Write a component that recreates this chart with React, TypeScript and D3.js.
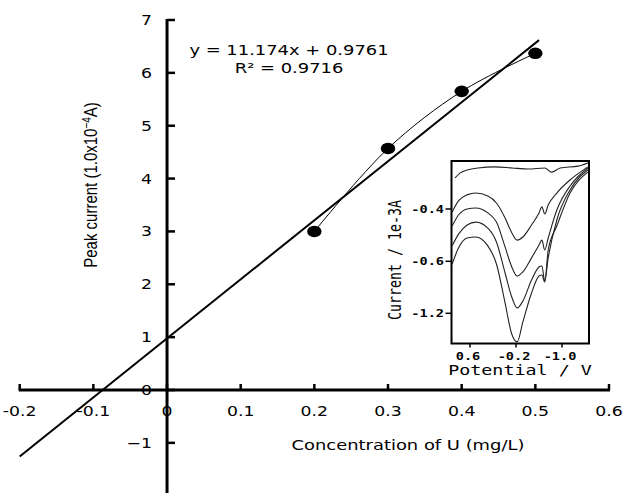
import React from 'react';
import * as d3 from 'd3';

// calibration points (mg/L vs peak current, 1e-4 A)
const concentration = [0.2, 0.3, 0.4, 0.5];
const peakCurrent = [3.0, 4.57, 5.65, 6.37];

// linear fit as printed on the chart
const fitSlope = 11.174;
const fitIntercept = 0.9761;
const fitR2 = 0.9716;
const fitFrom = -0.2;
const fitTo = 0.505;

const xTicks = [-0.2, -0.1, 0, 0.1, 0.2, 0.3, 0.4, 0.5, 0.6];
const xTickLabels = ['-0.2', '-0.1', '0', '0.1', '0.2', '0.3', '0.4', '0.5', '0.6'];
const yTicks = [-1, 0, 1, 2, 3, 4, 5, 6, 7];
const yTickLabels = ['\u22121', '0', '1', '2', '3', '4', '5', '6', '7'];
const yAxisBottom = -1.95;

// inset voltammograms (potential in V, current in 1e-3 A)
const scanPotential = [0.91, 0.8, 0.65, 0.5, 0.29, 0.14, -0.01, -0.12, -0.22, -0.32, -0.47, -0.6, -0.65, -0.7, -0.76, -0.91, -1.14, -1.45];
const scan1 = [-0.411, -0.369, -0.346, -0.339, -0.35, -0.377, -0.434, -0.488, -0.519, -0.507, -0.461, -0.415, -0.392, -0.419, -0.385, -0.339, -0.289, -0.239];
const scan2 = [-0.465, -0.423, -0.4, -0.396, -0.415, -0.45, -0.545, -0.654, -0.77, -0.723, -0.587, -0.538, -0.519, -0.557, -0.511, -0.404, -0.312, -0.243];
const scan3 = [-0.541, -0.496, -0.461, -0.45, -0.473, -0.526, -0.735, -1.0, -1.139, -1.058, -0.816, -0.666, -0.654, -0.827, -0.587, -0.442, -0.327, -0.251];
const scan4 = [-0.631, -0.549, -0.511, -0.507, -0.541, -0.631, -1.081, -1.427, -1.53, -1.3, -0.966, -0.77, -0.758, -0.839, -0.557, -0.465, -0.339, -0.259];
const blankPotential = [0.86, 0.77, 0.65, 0.46, 0.17, -0.13, -0.41, -0.7, -0.82, -0.97, -1.28, -1.45];
const blankCurrent = [-0.281, -0.262, -0.251, -0.243, -0.239, -0.243, -0.247, -0.243, -0.259, -0.243, -0.236, -0.224];

const insetXTicks = [0.6, -0.2, -1.0];
const insetXTickLabels = ['0.6', '-0.2', '-1.0'];
const insetYTicks = [-0.4, -0.6, -1.2];
const insetYTickLabels = ['-0.4', '-0.6', '-1.2'];

const W = 624;
const H = 493;
const SX = 1.28; // the original is stretched sideways
const MSX = 1.36;
const sans = '"DejaVu Sans", sans-serif';
const mono = '"DejaVu Sans Mono", monospace';

const st = (x: number, y: number, sx = SX) => `translate(${x},${y}) scale(${sx},1)`;

export default function App() {
  const x = d3.scaleLinear().domain([-0.2, 0.6]).range([19.7, 609]);
  const y = d3.scaleLinear().domain([0, 7]).range([390, 20]);

  const fitLine = d3.line<number>()
    .x(d => x(d))
    .y(d => y(fitSlope * d + fitIntercept));

  const pts = concentration.map((c, i) => [c, peakCurrent[i]] as [number, number]);
  const smooth = d3.line<[number, number]>()
    .x(d => x(d[0]))
    .y(d => y(d[1]))
    .curve(d3.curveCatmullRom.alpha(0.5));

  // inset
  const box = { left: 451.5, top: 161, right: 589, bottom: 343.5 };
  const ix = d3.scaleLinear().domain([0.6, -1.0]).range([470, 562]);
  const iy = d3.scaleLinear().domain([-0.4, -0.6, -1.2]).range([209, 261.3, 313.3]);
  const scanLine = d3.line<[number, number]>()
    .x(d => ix(d[0]))
    .y(d => iy(d[1]))
    .curve(d3.curveMonotoneX);
  const scans = [scan1, scan2, scan3, scan4].map(s => scanPotential.map((p, i) => [p, s[i]] as [number, number]));
  const blank = blankPotential.map((p, i) => [p, blankCurrent[i]] as [number, number]);

  const x0 = x(0);
  const y0 = y(0);

  return (
    <svg width={W} height={H} style={{ position: 'absolute', left: 0, top: 0, background: '#fff' }}>
      <defs>
        <clipPath id="insetClip">
          <rect x={box.left} y={box.top} width={box.right - box.left} height={box.bottom - box.top} />
        </clipPath>
      </defs>

      {/* x axis */}
      <line x1={x(-0.2) - 1} x2={x(0.6) + 1} y1={y0} y2={y0} stroke="#000" strokeWidth={3} />
      {xTicks.map(t => (
        <line key={'xt' + t} x1={x(t)} x2={x(t)} y1={y0} y2={y0 - 6} stroke="#000" strokeWidth={2.5} />
      ))}
      {xTicks.map((t, i) => (
        <text key={'xl' + t} transform={st(x(t), 416)} textAnchor="middle" fontFamily={sans} fontSize={13.5}>
          {xTickLabels[i]}
        </text>
      ))}

      {/* y axis */}
      <line x1={x0} x2={x0} y1={y(7) - 1} y2={y(yAxisBottom)} stroke="#000" strokeWidth={3} />
      {yTicks.map(t => (
        <line key={'yt' + t} x1={x0} x2={x0 + 8} y1={y(t)} y2={y(t)} stroke="#000" strokeWidth={2.5} />
      ))}
      {yTicks.map((t, i) => (
        <text key={'yl' + t} transform={st(152, y(t) + 5)} textAnchor="end" fontFamily={sans} fontSize={13.5}>
          {yTickLabels[i]}
        </text>
      ))}

      {/* axis titles */}
      <text transform={`translate(90,185) scale(${SX},1) rotate(-90)`} textAnchor="middle" dy="0.36em"
        fontFamily='"Liberation Sans", Arial, sans-serif' fontSize={15}>
        Peak current (1.0x10<tspan dy={-5} fontSize={10}>{'\u22124'}</tspan><tspan dy={5}>A)</tspan>
      </text>
      <text transform={st(408, 450)} textAnchor="middle" fontFamily={sans} fontSize={14}>
        Concentration of U (mg/L)
      </text>

      {/* fit and data */}
      <path d={fitLine([fitFrom, fitTo]) ?? ''} fill="none" stroke="#000" strokeWidth={2} />
      <path d={smooth(pts) ?? ''} fill="none" stroke="#000" strokeWidth={1} />
      {pts.map(d => (
        <ellipse key={'p' + d[0]} cx={x(d[0])} cy={y(d[1])} rx={7.2} ry={5.8} fill="#000" />
      ))}

      <text transform={st(289, 55)} textAnchor="middle" fontFamily={sans} fontSize={14}>
        {`y = ${fitSlope}x + ${fitIntercept}`}
      </text>
      <text transform={st(289, 73)} textAnchor="middle" fontFamily={sans} fontSize={14}>
        {`R\u00B2 = ${fitR2}`}
      </text>

      {/* inset */}
      <rect x={box.left} y={box.top} width={box.right - box.left} height={box.bottom - box.top}
        fill="#fff" stroke="#000" strokeWidth={2} />
      <g clipPath="url(#insetClip)" fill="none" stroke="#222" strokeWidth={1.1}>
        <path d={scanLine(blank) ?? ''} />
        {scans.map((s, i) => (
          <path key={'scan' + i} d={scanLine(s) ?? ''} />
        ))}
      </g>
      {insetYTicks.map((t, i) => (
        <g key={'iyt' + t}>
          <line x1={box.left - 6} x2={box.left} y1={iy(t)} y2={iy(t)} stroke="#000" strokeWidth={1.5} />
          <text transform={st(444, iy(t) + 3.5, MSX)} textAnchor="end" fontFamily={mono} fontWeight="bold" fontSize={10}>
            {insetYTickLabels[i]}
          </text>
        </g>
      ))}
      {insetXTicks.map((t, i) => (
        <g key={'ixt' + t}>
          <line x1={ix(t)} x2={ix(t)} y1={box.bottom} y2={box.bottom + 4} stroke="#000" strokeWidth={1.5} />
          <text transform={st(ix(t) - 2, 360, MSX)} textAnchor="middle" fontFamily={mono} fontWeight="bold" fontSize={10}>
            {insetXTickLabels[i]}
          </text>
        </g>
      ))}
      <text transform={st(520, 375, MSX)} textAnchor="middle" fontFamily={mono} fontSize={13.5}>
        Potential / V
      </text>
      <text transform={`translate(394,260) scale(${MSX},1) rotate(-90)`} textAnchor="middle" dy="0.36em"
        fontFamily={mono} fontSize={13.3}>
        Current / 1e-3A
      </text>
    </svg>
  );
}
